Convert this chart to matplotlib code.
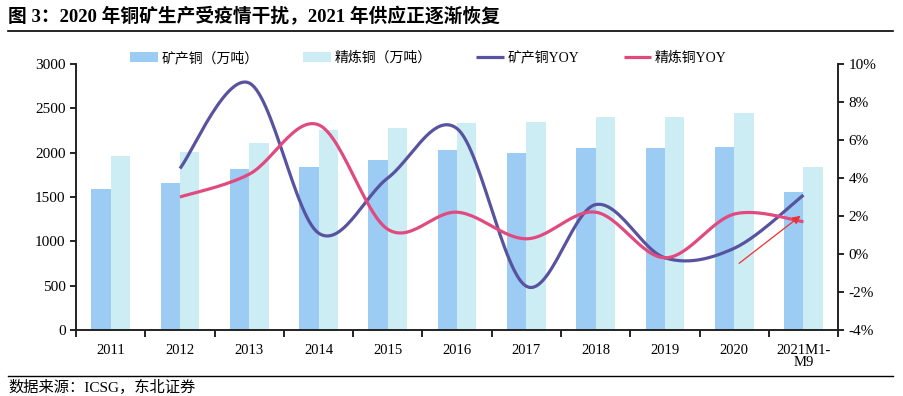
import numpy as np
import matplotlib.pyplot as plt
from matplotlib.ticker import FuncFormatter, FixedLocator

plt.rcParams['font.family'] = ['Liberation Serif', 'Noto Sans CJK SC']

years = ['2011', '2012', '2013', '2014', '2015', '2016', '2017', '2018', '2019', '2020', '2021M1-\nM9']
mine_output = [1590, 1658, 1816, 1839, 1918, 2030, 1997, 2053, 2053, 2064, 1557]
refined_output = [1963, 2008, 2109, 2256, 2279, 2335, 2346, 2403, 2400, 2448, 1839]
# yoy in %, 2011 has no value
mine_yoy = [np.nan, 4.5, 9.0, 1.1, 4.0, 6.6, -1.7, 2.6, -0.2, 0.3, 3.1]
refined_yoy = [np.nan, 3.0, 4.2, 6.8, 1.3, 2.2, 0.8, 2.2, -0.2, 2.1, 1.7]


def smooth(x, y, n=30):
    # excel style smoothed line through the points
    x = np.asarray(x, float)
    y = np.asarray(y, float)
    ok = ~np.isnan(y)
    x, y = x[ok], y[ok]
    px = np.concatenate([[x[0]], x, [x[-1]]])
    py = np.concatenate([[y[0]], y, [y[-1]]])
    xs, ys = [], []
    t = np.linspace(0, 1, n)
    for i in range(1, len(px) - 2):
        p0 = np.array([px[i], py[i]])
        p3 = np.array([px[i + 1], py[i + 1]])
        p1 = p0 + (np.array([px[i + 1], py[i + 1]]) - np.array([px[i - 1], py[i - 1]])) / 6
        p2 = p3 - (np.array([px[i + 2], py[i + 2]]) - np.array([px[i], py[i]])) / 6
        b = ((1 - t) ** 3)[:, None] * p0 + (3 * (1 - t) ** 2 * t)[:, None] * p1 \
            + (3 * (1 - t) * t ** 2)[:, None] * p2 + (t ** 3)[:, None] * p3
        xs.extend(b[:, 0])
        ys.extend(b[:, 1])
    return np.array(xs), np.array(ys)


c_mine = '#9ccbf3'
c_ref = '#cdedf5'
c_mine_line = '#57539f'
c_ref_line = '#e04a7e'

fig = plt.figure(figsize=(9.04, 3.96), dpi=100)
ax = fig.add_axes([0.0841, 0.1667, 0.8430, 0.6717])
ax2 = ax.twinx()

x = np.arange(len(years))
w = 0.28
ax.bar(x - w / 2, mine_output, w, color=c_mine, label='矿产铜（万吨）', zorder=2)
ax.bar(x + w / 2, refined_output, w, color=c_ref, label='精炼铜（万吨）', zorder=2)

sx, sy = smooth(x, mine_yoy)
ax2.plot(sx, sy, color=c_mine_line, lw=2.3, label='矿产铜YOY', solid_capstyle='butt')
sx, sy = smooth(x, refined_yoy)
ax2.plot(sx, sy, color=c_ref_line, lw=2.3, label='精炼铜YOY', solid_capstyle='butt')

ax2.annotate('', xy=(9.99, 2.1), xytext=(9.04, -0.58),
             arrowprops=dict(arrowstyle='-|>', color='#f03030', lw=0.9, mutation_scale=12))

ax.set_xlim(-0.5, len(years) - 0.5)
ax.set_ylim(0, 3000)
ax.set_yticks(np.arange(0, 3001, 500))
ax2.set_ylim(-4, 10)
ax2.set_yticks(np.arange(-4, 11, 2))
ax2.yaxis.set_major_formatter(FuncFormatter(lambda v, p: f'{v:.0f}%'))

ax.set_xticks(x)
ax.set_xticklabels(years, fontsize=10.5, linespacing=0.95)
ax.tick_params(axis='x', which='major', length=0, pad=10)
ax.xaxis.set_minor_locator(FixedLocator(np.arange(-0.5, len(years), 1)))
ax.tick_params(axis='x', which='minor', length=5, width=1.2, direction='out')
ax.tick_params(axis='y', labelsize=11, length=4, width=1.2, direction='out')
ax2.tick_params(axis='y', labelsize=11, length=4, width=1.2, direction='out')

for a in (ax, ax2):
    a.spines['top'].set_visible(False)
    for s in ('left', 'right', 'bottom'):
        a.spines[s].set_linewidth(1.2)
        a.spines[s].set_color('#222222')

h1, l1 = ax.get_legend_handles_labels()
h2, l2 = ax2.get_legend_handles_labels()
fig.legend(h1 + h2, l1 + l2, loc='center', bbox_to_anchor=(0.474, 0.853), ncol=4,
           frameon=False, fontsize=10, handlelength=2.0, handletextpad=0.25,
           columnspacing=3.2, borderaxespad=0)

fig.text(0.009, 0.957, '图 3：2020 年铜矿生产受疫情干扰，2021 年供应正逐渐恢复',
         fontsize=13.5, fontweight='bold', ha='left', va='center')
fig.add_artist(plt.Line2D([0.009, 0.988], [0.922, 0.922], color='black', lw=1.2))
fig.add_artist(plt.Line2D([0.009, 0.988], [0.051, 0.051], color='black', lw=1.0))
fig.text(0.009, 0.022, '数据来源：ICSG，东北证券', fontsize=11, ha='left', va='center')

fig.savefig('out.png', dpi=100)
